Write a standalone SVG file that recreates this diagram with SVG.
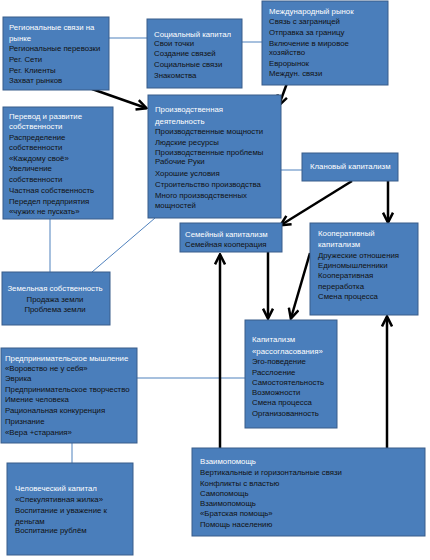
<svg xmlns="http://www.w3.org/2000/svg" width="430" height="560" viewBox="0 0 430 560">
<style>
.box{fill:#4A7EBB;stroke:#385D8A;stroke-width:1}
text{font-family:"Liberation Sans","DejaVu Sans",sans-serif;font-size:7.8px;fill:#111}
.t{fill:#fff}
.thin{stroke:#4F81BD;stroke-width:1;fill:none}
.arr{stroke:#000;stroke-width:2.5;fill:none;marker-end:url(#ah)}
</style>
<defs>
<marker id="ah" viewBox="0 0 10 10" refX="8.5" refY="5" markerWidth="5" markerHeight="5" orient="auto">
<path d="M1,1 L9,5 L1,9" fill="none" stroke="#000" stroke-width="2"/>
</marker>
</defs>
<rect width="430" height="560" fill="#fff"/>
<g id="connectors">
<line class="thin" x1="109" y1="38" x2="147" y2="38"/>
<line class="thin" x1="242" y1="42" x2="262" y2="42"/>
<line class="thin" x1="281" y1="170" x2="302" y2="170"/>
<line class="thin" x1="50" y1="219" x2="50" y2="272"/>
<line class="thin" x1="92" y1="272" x2="155" y2="218"/>
<line class="thin" x1="137" y1="378" x2="245" y2="378"/>
<line class="thin" x1="72" y1="443" x2="72" y2="463"/>
<line class="arr" x1="92" y1="89" x2="146" y2="108"/>
<line class="arr" x1="290" y1="75" x2="279" y2="105"/>
<line class="arr" x1="352" y1="181" x2="281" y2="225"/>
<line class="arr" x1="388" y1="181" x2="388" y2="222"/>
<line class="arr" x1="268" y1="252" x2="268" y2="318"/>
<line class="arr" x1="310" y1="253" x2="291" y2="318"/>
<line class="arr" x1="220" y1="448" x2="220" y2="255"/>
<line class="arr" x1="387" y1="448" x2="387" y2="317"/>
</g>
<g id="regional">
<rect class="box" x="3" y="17" width="106" height="73"/>
<text class="t" x="9" y="30">Региональные связи на</text>
<text class="t" x="9" y="41">рынке</text>
<text x="9" y="51">Региональные перевозки</text>
<text x="9" y="62">Рег. Сети</text>
<text x="9" y="73">Рег. Клиенты</text>
<text x="9" y="83">Захват рынков</text>
</g>
<g id="social">
<rect class="box" x="147" y="19" width="95" height="69"/>
<text class="t" x="154" y="37">Социальный капитал</text>
<text x="154" y="46">Свои точки</text>
<text x="154" y="56">Создание связей</text>
<text x="154" y="67">Социальные связи</text>
<text x="154" y="78">Знакомства</text>
</g>
<g id="international">
<rect class="box" x="262" y="1" width="126" height="84"/>
<text class="t" x="269" y="14">Международный рынок</text>
<text x="269" y="24">Связь с заграницей</text>
<text x="269" y="35">Отправка за границу</text>
<text x="269" y="46">Включение в мировое</text>
<text x="269" y="55">хозяйство</text>
<text x="269" y="66">Еврорынок</text>
<text x="269" y="76">Междун. связи</text>
</g>
<g id="transfer">
<rect class="box" x="3" y="107" width="110" height="112"/>
<text class="t" x="9" y="119">Перевод и развитие</text>
<text class="t" x="9" y="129">собственности</text>
<text x="9" y="140">Распределение</text>
<text x="9" y="150">собственности</text>
<text x="9" y="161">«Каждому своё»</text>
<text x="9" y="171">Увеличение</text>
<text x="9" y="182">собственности</text>
<text x="9" y="193">Частная собственность</text>
<text x="9" y="204">Передел предприятия</text>
<text x="9" y="214">«чужих не пускать»</text>
</g>
<g id="production">
<rect class="box" x="148" y="95" width="133" height="123"/>
<text class="t" x="155" y="112">Производственная</text>
<text class="t" x="155" y="124">деятельность</text>
<text x="155" y="134">Производственные мощности</text>
<text x="155" y="145">Людские ресурсы</text>
<text x="155" y="155">Производственные проблемы</text>
<text x="155" y="164">Рабочие Руки</text>
<text x="155" y="176">Хорошие условия</text>
<text x="155" y="187">Строительство производства</text>
<text x="155" y="198">Много производственных</text>
<text x="155" y="208">мощностей</text>
</g>
<g id="clan">
<rect class="box" x="302" y="153" width="96" height="28"/>
<text class="t" x="310" y="169">Клановый капитализм</text>
</g>
<g id="family">
<rect class="box" x="180" y="223" width="102" height="29"/>
<text class="t" x="185" y="237">Семейный капитализм</text>
<text x="185" y="247">Семейная кооперация</text>
</g>
<g id="cooperative">
<rect class="box" x="310" y="223" width="108" height="92"/>
<text class="t" x="318" y="236">Кооперативный</text>
<text class="t" x="318" y="247">капитализм</text>
<text x="318" y="258">Дружеские отношения</text>
<text x="318" y="268">Единомышленники</text>
<text x="318" y="278">Кооперативная</text>
<text x="318" y="289">переработка</text>
<text x="318" y="299">Смена процесса</text>
</g>
<g id="land">
<rect class="box" x="2" y="272" width="108" height="53"/>
<text class="t" x="55" y="291" text-anchor="middle">Земельная собственность</text>
<text x="55" y="302" text-anchor="middle">Продажа земли</text>
<text x="55" y="312" text-anchor="middle">Проблема земли</text>
</g>
<g id="capitalism">
<rect class="box" x="245" y="320" width="92" height="108"/>
<text class="t" x="252" y="342">Капитализм</text>
<text class="t" x="252" y="354">«рассогласования»</text>
<text x="252" y="364">Эго-поведение</text>
<text x="252" y="375">Расслоение</text>
<text x="252" y="385">Самостоятельность</text>
<text x="252" y="395">Возможности</text>
<text x="252" y="405">Смена процесса</text>
<text x="252" y="416">Организованность</text>
</g>
<g id="entrepreneur">
<rect class="box" x="1" y="348" width="136" height="95"/>
<text class="t" x="5" y="361">Предпринимательское мышление</text>
<text x="5" y="371">«Воровство не у себя»</text>
<text x="5" y="381">Эврика</text>
<text x="5" y="392">Предпринимательское творчество</text>
<text x="5" y="402">Имение человека</text>
<text x="5" y="413">Рациональная конкуренция</text>
<text x="5" y="424">Признание</text>
<text x="5" y="435">«Вера +старания»</text>
</g>
<g id="human">
<rect class="box" x="7" y="463" width="126" height="92"/>
<text class="t" x="15" y="491">Человеческий капитал</text>
<text x="15" y="502">«Спекулятивная жилка»</text>
<text x="15" y="513">Воспитание и уважение к</text>
<text x="15" y="524">деньгам</text>
<text x="15" y="533">Воспитание рублём</text>
</g>
<g id="mutual">
<rect class="box" x="192" y="448" width="233" height="88"/>
<text class="t" x="200" y="464">Взаимопомощь</text>
<text x="200" y="475">Вертикальные и горизонтальные связи</text>
<text x="200" y="486">Конфликты с властью</text>
<text x="200" y="496">Самопомощь</text>
<text x="200" y="506">Взаимопомощь</text>
<text x="200" y="516">«Братская помощь»</text>
<text x="200" y="527">Помощь населению</text>
</g>
</svg>
